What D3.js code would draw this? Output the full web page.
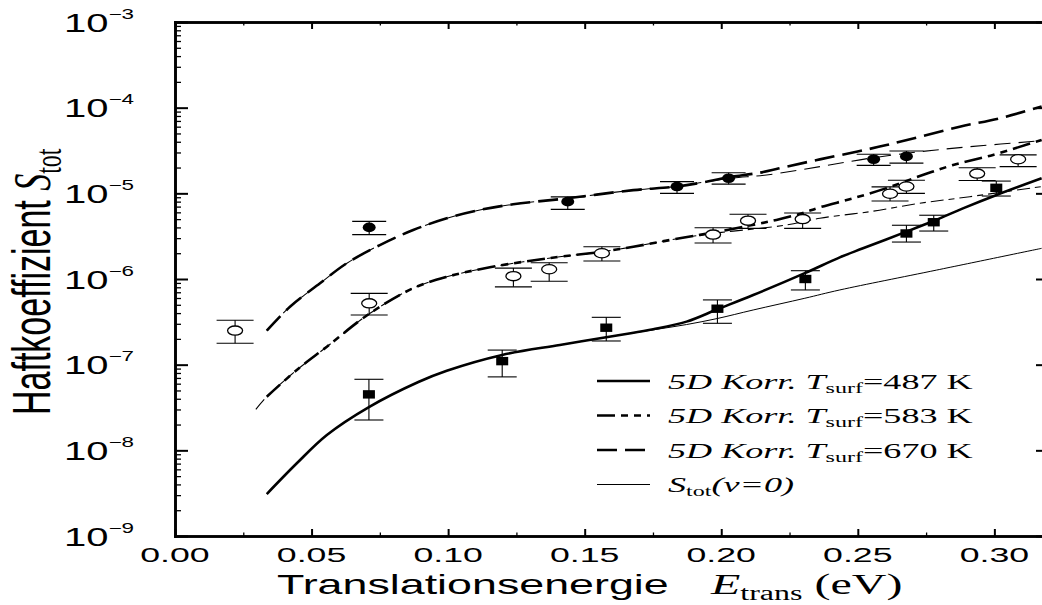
<!DOCTYPE html>
<html>
<head>
<meta charset="utf-8">
<script src="https://cdn.jsdelivr.net/npm/d3@7"></script>
<style>
  body { margin: 0; background: #fff; }
  svg { display: block; }
</style>
</head>
<body>
<svg id="chart" width="1042" height="605"></svg>
<script>
// ---- Data: translational energy (eV) vs. sticking coefficient S_tot ----

// 5D correlated model, thick curves
const curve487 = [[0.0336,3.09e-9],[0.0446,7.06e-9],[0.0556,1.51e-8],[0.0710,3.20e-8],[0.0891,6.28e-8],[0.0995,8.50e-8],[0.1198,1.30e-7],[0.1409,1.70e-7],[0.1629,2.22e-7],[0.1751,2.59e-7],[0.1873,3.18e-7],[0.1986,4.43e-7],[0.2117,6.50e-7],[0.2306,1.17e-6],[0.2434,1.79e-6],[0.2519,2.28e-6],[0.2678,3.57e-6],[0.2776,4.75e-6],[0.2885,6.68e-6],[0.3008,9.57e-6],[0.3173,1.50e-5]];
const curve583 = [[0.0336,4.23e-8],[0.0446,8.67e-8],[0.0556,1.62e-7],[0.0710,3.90e-7],[0.0872,7.80e-7],[0.0995,1.06e-6],[0.1153,1.37e-6],[0.1369,1.75e-6],[0.1562,2.08e-6],[0.1678,2.38e-6],[0.1848,2.99e-6],[0.1968,3.47e-6],[0.2096,4.16e-6],[0.2202,4.89e-6],[0.2296,5.85e-6],[0.2361,6.87e-6],[0.2483,8.75e-6],[0.2605,1.15e-5],[0.2727,1.59e-5],[0.2849,2.14e-5],[0.2995,2.81e-5],[0.3173,4.20e-5]];
const curve670 = [[0.0336,2.49e-7],[0.0421,4.75e-7],[0.0531,8.91e-7],[0.0628,1.52e-6],[0.0750,2.49e-6],[0.0872,3.73e-6],[0.0995,5.12e-6],[0.1116,6.40e-6],[0.1238,7.45e-6],[0.1437,8.75e-6],[0.1678,1.09e-5],[0.1836,1.20e-5],[0.1958,1.39e-5],[0.2025,1.54e-5],[0.2141,1.74e-5],[0.2239,2.05e-5],[0.2361,2.49e-5],[0.2495,3.06e-5],[0.2605,3.66e-5],[0.2727,4.58e-5],[0.2873,6.00e-5],[0.3020,7.52e-5],[0.3173,1.03e-4]];

// Same model restricted to the vibrational ground state (v=0), thin curves
const curve487v0 = [[0.0336,3.09e-9],[0.0446,7.06e-9],[0.0556,1.51e-8],[0.0710,3.20e-8],[0.0891,6.28e-8],[0.0995,8.50e-8],[0.1198,1.30e-7],[0.1409,1.70e-7],[0.1629,2.22e-7],[0.1751,2.55e-7],[0.1873,2.94e-7],[0.1986,3.46e-7],[0.2117,4.35e-7],[0.2306,5.96e-7],[0.2434,7.45e-7],[0.2788,1.27e-6],[0.3173,2.28e-6]];
const curve583v0 = [[0.0296,3.01e-8],[0.0336,4.23e-8],[0.0446,8.67e-8],[0.0556,1.62e-7],[0.0710,3.90e-7],[0.0872,7.80e-7],[0.0995,1.06e-6],[0.1153,1.37e-6],[0.1369,1.75e-6],[0.1562,2.08e-6],[0.1678,2.38e-6],[0.1848,2.99e-6],[0.1968,3.40e-6],[0.2044,3.62e-6],[0.2239,4.27e-6],[0.2361,5.12e-6],[0.2544,6.11e-6],[0.2727,7.66e-6],[0.2910,9.14e-6],[0.3173,1.20e-5]];
const curve670v0 = [[0.0336,2.49e-7],[0.0421,4.75e-7],[0.0531,8.91e-7],[0.0628,1.52e-6],[0.0750,2.49e-6],[0.0872,3.73e-6],[0.0995,5.12e-6],[0.1116,6.40e-6],[0.1238,7.45e-6],[0.1437,8.75e-6],[0.1678,1.09e-5],[0.1836,1.20e-5],[0.1958,1.39e-5],[0.2043,1.51e-5],[0.2166,1.64e-5],[0.2361,2.05e-5],[0.2544,2.57e-5],[0.2727,3.06e-5],[0.2910,3.50e-5],[0.3173,4.11e-5]];

// Measurements: [E, S, S_low, S_high]
const meas487 = [[0.0710,4.5e-8,2.26e-8,6.75e-8],[0.1198,1.1e-7,7.2e-8,1.48e-7],[0.1579,2.7e-7,1.89e-7,3.57e-7],[0.1986,4.5e-7,3.04e-7,5.7e-7],[0.2308,1.0e-6,7.45e-7,1.25e-6],[0.2678,3.4e-6,2.7e-6,4.24e-6],[0.2778,4.6e-6,3.63e-6,5.55e-6],[0.3007,1.16e-5,9.3e-6,1.39e-5]];
const meas583 = [[0.0220,2.5e-7,1.78e-7,3.3e-7],[0.0711,5.2e-7,3.8e-7,6.8e-7],[0.1239,1.08e-6,8.1e-7,1.34e-6],[0.1370,1.30e-6,9.4e-7,1.55e-6],[0.1563,2.0e-6,1.62e-6,2.38e-6],[0.1970,3.3e-6,2.63e-6,3.97e-6],[0.2098,4.8e-6,3.9e-6,5.7e-6],[0.2298,5.0e-6,3.9e-6,5.9e-6],[0.2618,9.9e-6,8.15e-6,1.19e-5],[0.2678,1.2e-5,1.0e-5,1.42e-5],[0.2937,1.7e-5,1.41e-5,1.99e-5],[0.3087,2.5e-5,2.05e-5,2.81e-5]];
const meas670 = [[0.0711,4.0e-6,3.3e-6,4.7e-6],[0.1438,8.0e-6,6.5e-6,9.1e-6],[0.1838,1.2e-5,1.0e-5,1.37e-5],[0.2027,1.5e-5,1.28e-5,1.74e-5],[0.2558,2.5e-5,2.12e-5,2.86e-5],[0.2678,2.7e-5,2.25e-5,3.12e-5]];

// Axis ticks and labels
const xMajorTicks = [0, 0.05, 0.10, 0.15, 0.20, 0.25, 0.30];
const xMinorTicks = [0.025, 0.075, 0.125, 0.175, 0.225, 0.275];
const yDecades = [-3, -4, -5, -6, -7, -8, -9];
const legendTemps = ["487", "583", "670"];

// ---- Layout ----
const plot = { left: 175, right: 1049, top: 22, bottom: 536 };
const STRETCH = 1.65;          // horizontal widening applied to the lettering
const SANS = "'Liberation Sans', Arial, Helvetica, sans-serif";
const SERIF = "'Liberation Serif', 'Times New Roman', Times, serif";

const x = d3.scaleLinear().domain([0, 0.32]).range([plot.left, plot.right]);
const y = d3.scaleLog().domain([1e-9, 1e-3]).range([plot.bottom, plot.top]);

const svg = d3.select("#chart");
const root = svg.append("g");

// Line styles per series
const styles = {
  c487:   { width: 2.6, dash: null },
  c583:   { width: 2.6, dash: "18,6,7,6,7,6" },
  c670:   { width: 2.6, dash: "20,8" },
  v487:   { width: 1.0, dash: null },
  v583:   { width: 1.1, dash: "13,5,6,5" },
  v670:   { width: 1.1, dash: "16,8" }
};

// ---- Frame and ticks ----
const minorY = [];
for (let e = -9; e < -3; e++) for (let k = 2; k <= 9; k++) minorY.push(k * Math.pow(10, e));
const majorY = yDecades.map(e => Math.pow(10, e));

function styleAxis(g, w) {
  g.select(".domain").attr("stroke", "#000").attr("stroke-width", 2.6).attr("stroke-linecap", "square");
  g.selectAll(".tick line").attr("stroke", "#000").attr("stroke-width", w);
  g.selectAll(".tick text").remove();
}

const axes = [
  { gen: d3.axisBottom(x), t: `translate(0,${plot.bottom})`, major: -7, minor: -3.5, mv: xMajorTicks, nv: xMinorTicks },
  { gen: d3.axisTop(x), t: `translate(0,${plot.top})`, major: -7, minor: -3.5, mv: xMajorTicks, nv: xMinorTicks },
  { gen: d3.axisLeft(y), t: `translate(${plot.left},0)`, major: -13, minor: -6, mv: majorY, nv: minorY },
  { gen: d3.axisRight(y), t: `translate(${plot.right},0)`, major: -13, minor: -6, mv: majorY, nv: minorY }
];
axes.forEach(a => {
  const gMinor = root.append("g").attr("transform", a.t)
    .call(a.gen.tickValues(a.nv).tickSize(a.minor).tickSizeOuter(0).tickFormat(""));
  styleAxis(gMinor, 1.3);
  const gMajor = root.append("g").attr("transform", a.t)
    .call(a.gen.tickValues(a.mv).tickSize(a.major).tickSizeOuter(0).tickFormat(""));
  styleAxis(gMajor, 2);
});

// ---- Tick labels ----
xMajorTicks.forEach(v => {
  root.append("g")
    .attr("transform", `translate(${x(v)},562) scale(1.7,1)`)
    .append("text")
    .attr("text-anchor", "middle")
    .attr("font-family", SANS).attr("font-size", 21)
    .text(d3.format(".2f")(v));
});

yDecades.forEach(e => {
  const t = root.append("g")
    .attr("transform", `translate(134,${y(Math.pow(10, e)) + 9.5}) scale(1.6,1)`)
    .append("text")
    .attr("text-anchor", "end")
    .attr("font-family", SANS).attr("font-size", 25);
  t.append("tspan").text("10");
  t.append("tspan").attr("font-size", 14).attr("dy", -13).text("\u2212" + Math.abs(e));
});

// ---- Axis titles ----
root.append("g")
  .attr("transform", `translate(277,594) scale(1.6,1)`)
  .append("text")
  .attr("font-family", SANS).attr("font-size", 28)
  .text("Translationsenergie");

const xt = root.append("g")
  .attr("transform", `translate(711,594) scale(1.6,1)`)
  .append("text")
  .attr("font-family", SERIF).attr("font-size", 30);
xt.append("tspan").attr("font-style", "italic").text("E");
xt.append("tspan").attr("font-size", 20).attr("dy", 6).text("trans");
xt.append("tspan").attr("dy", -6).text(" (eV)");

const yt = root.append("g")
  .attr("transform", `translate(50,415) scale(1.56,1) rotate(-90)`)
  .append("text")
  .attr("font-family", SANS).attr("font-size", 34);
yt.append("tspan").text("Haftkoeffizient ");
yt.append("tspan").attr("font-family", SERIF).attr("font-style", "italic").attr("font-size", 34).text("S");
yt.append("tspan").attr("font-family", SERIF).attr("font-size", 24).attr("dy", 7).text("tot");

// ---- Curves ----
const line = d3.line()
  .x(d => x(d[0]))
  .y(d => y(d[1]))
  .curve(d3.curveCatmullRom.alpha(0.5));

const curves = [
  { data: curve487v0, s: styles.v487 },
  { data: curve583v0, s: styles.v583 },
  { data: curve670v0, s: styles.v670 },
  { data: curve487, s: styles.c487 },
  { data: curve583, s: styles.c583 },
  { data: curve670, s: styles.c670 }
];
const curveLayer = root.append("g");
curves.forEach(c => {
  curveLayer.append("path")
    .datum(c.data)
    .attr("d", line)
    .attr("fill", "none")
    .attr("stroke", "#000")
    .attr("stroke-width", c.s.width)
    .attr("stroke-dasharray", c.s.dash)
    .attr("stroke-linejoin", "round");
});

// ---- Measurements with error bars ----
function drawErrorBars(data, capWidth) {
  const g = root.append("g").attr("stroke", "#000").attr("stroke-width", 1.1);
  data.forEach(d => {
    const cx = x(d[0]);
    g.append("line").attr("x1", cx).attr("x2", cx).attr("y1", y(d[2])).attr("y2", y(d[3]));
    [d[2], d[3]].forEach(v => {
      g.append("line")
        .attr("x1", cx - capWidth / 2).attr("x2", cx + capWidth / 2)
        .attr("y1", y(v)).attr("y2", y(v));
    });
  });
}
drawErrorBars(meas583, 37);
drawErrorBars(meas670, 34);
drawErrorBars(meas487, 29);

root.append("g").selectAll("ellipse").data(meas583).join("ellipse")
  .attr("cx", d => x(d[0])).attr("cy", d => y(d[1]))
  .attr("rx", 7.5).attr("ry", 4.6)
  .attr("fill", "#fff").attr("stroke", "#000").attr("stroke-width", 1.3);

root.append("g").selectAll("ellipse").data(meas670).join("ellipse")
  .attr("cx", d => x(d[0])).attr("cy", d => y(d[1]))
  .attr("rx", 6.5).attr("ry", 4.8)
  .attr("fill", "#000");

root.append("g").selectAll("rect").data(meas487).join("rect")
  .attr("x", d => x(d[0]) - 6).attr("y", d => y(d[1]) - 4.2)
  .attr("width", 12).attr("height", 8.4)
  .attr("fill", "#000");

// ---- Legend ----
const legendRows = [
  { s: styles.c487, temp: legendTemps[0] },
  { s: styles.c583, temp: legendTemps[1] },
  { s: styles.c670, temp: legendTemps[2] },
  { s: styles.v487, temp: null }
];
const legend = root.append("g");
legendRows.forEach((r, i) => {
  const ly = 381 + i * 34.5;
  legend.append("line")
    .attr("x1", 597).attr("x2", 650).attr("y1", ly).attr("y2", ly)
    .attr("stroke", "#000").attr("stroke-width", r.s.width)
    .attr("stroke-dasharray", r.s.dash);
  const t = legend.append("g")
    .attr("transform", `translate(668,${ly + 7.5}) scale(1.72,1)`)
    .append("text")
    .attr("font-family", SERIF).attr("font-size", 21);
  if (r.temp) {
    t.append("tspan").attr("font-style", "italic").text("5D Korr. T");
    t.append("tspan").attr("font-size", 14).attr("dy", 4).text("surf");
    t.append("tspan").attr("dy", -4).text("=" + r.temp + " K");
  } else {
    t.append("tspan").attr("font-style", "italic").text("S");
    t.append("tspan").attr("font-size", 14).attr("dy", 4).text("tot");
    t.append("tspan").attr("font-style", "italic").attr("dy", -4).text("(\u03BD=0)");
  }
});
</script>
</body>
</html>
